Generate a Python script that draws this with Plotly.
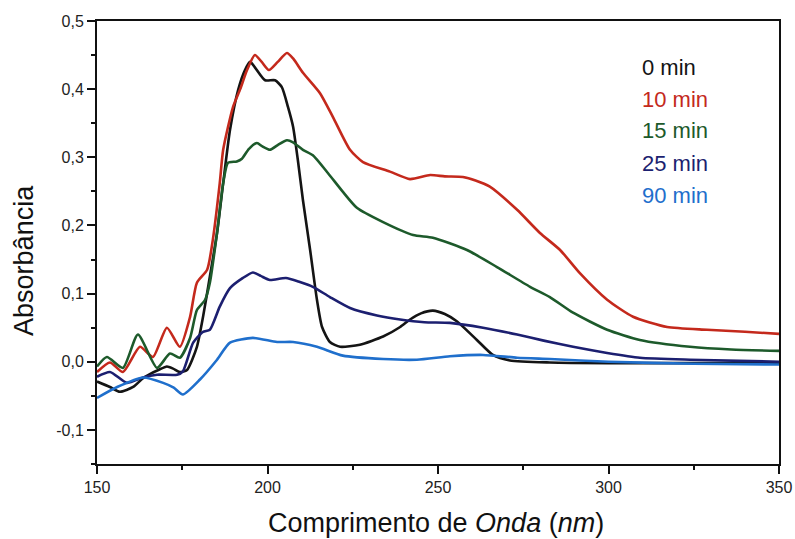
import plotly.graph_objects as go

# UV-Vis absorbance spectra at different reaction times
wl_0 = [150, 153.8, 156.7, 160.6, 163.5, 165.5, 168, 170.5, 172.3, 174.3, 176.4, 179.3, 181.1, 183.1,
        185.2, 187, 189, 191.4, 193.4, 194.9, 196.3, 199.3, 202.2, 204.2, 206, 207.5, 208.9, 210.4,
        212.5, 214.5, 216, 218.3, 221.3, 227.1, 233.9, 238.9, 241.8, 245, 248.5, 252, 255.6, 261.4,
        266.1, 271.1, 282.8, 300, 325, 350]
abs_0 = [-0.029, -0.037, -0.044, -0.037, -0.024, -0.018, -0.012, -0.007, -0.010, -0.015, -0.012, 0.022,
         0.066, 0.125, 0.189, 0.262, 0.340, 0.399, 0.428, 0.440, 0.432, 0.413, 0.413, 0.403, 0.374,
         0.345, 0.296, 0.237, 0.164, 0.091, 0.051, 0.029, 0.022, 0.025, 0.037, 0.051, 0.062, 0.071,
         0.075, 0.070, 0.059, 0.032, 0.010, 0.002, -0.001, -0.002, -0.002, -0.002]

wl_10 = [150, 153.8, 157.6, 162.6, 166.4, 170.5, 174.3, 177.3, 179.3, 182.3, 184, 186, 187, 189.9,
         192, 194, 196.3, 198.3, 200.4, 203, 205.7, 207.5, 210.4, 215.4, 219.2, 224.2, 228, 235.9,
         241.8, 247.7, 252, 257.3, 261, 265.2, 273.2, 279.9, 285.8, 291.6, 299.6, 307.2, 317.2,
         328.9, 340, 350]
abs_10 = [-0.015, -0.001, -0.015, 0.022, 0.007, 0.050, 0.022, 0.066, 0.116, 0.135, 0.180, 0.262, 0.311,
          0.374, 0.400, 0.428, 0.450, 0.440, 0.428, 0.440, 0.453, 0.445, 0.424, 0.394, 0.359, 0.311,
          0.293, 0.279, 0.268, 0.274, 0.272, 0.271, 0.266, 0.257, 0.223, 0.189, 0.164, 0.130, 0.091,
          0.066, 0.051, 0.047, 0.044, 0.041]

wl_15 = [150, 152.9, 157.6, 162, 167.6, 171.4, 174.3, 177.3, 179.3, 181.7, 183.1, 185.2, 187, 188.4,
         191, 192.5, 194.5, 196.9, 198.5, 200.7, 203, 205.7, 207.5, 210.4, 213.3, 217.7, 222, 226.2,
         233.9, 242.7, 248.5, 258.5, 267.3, 277, 282.8, 289.6, 299.6, 309.2, 323.9, 336, 350]
abs_15 = [-0.007, 0.007, -0.009, 0.040, -0.009, 0.012, 0.006, 0.035, 0.076, 0.091, 0.116, 0.189, 0.262,
          0.292, 0.294, 0.298, 0.312, 0.321, 0.316, 0.311, 0.318, 0.325, 0.322, 0.311, 0.303, 0.277,
          0.250, 0.226, 0.205, 0.186, 0.182, 0.164, 0.139, 0.110, 0.095, 0.072, 0.047, 0.032, 0.022,
          0.018, 0.016]

wl_25 = [150, 153.8, 158.8, 163.5, 167.6, 173.5, 175.2, 178.2, 181.1, 183.1, 186, 189, 192.8, 195.7,
         198, 200.7, 205.4, 209.5, 213.3, 218.3, 224.2, 232.1, 238.9, 246, 253.5, 263.2, 273.2, 281,
         289.6, 299.6, 309.2, 323.9, 350]
abs_25 = [-0.022, -0.015, -0.031, -0.023, -0.019, -0.019, -0.014, 0.028, 0.044, 0.047, 0.081, 0.108,
          0.123, 0.131, 0.126, 0.120, 0.123, 0.117, 0.110, 0.095, 0.079, 0.068, 0.062, 0.058, 0.057,
          0.050, 0.040, 0.031, 0.022, 0.013, 0.006, 0.003, 0.000]

wl_90 = [150, 155.9, 163.5, 169.4, 172.5, 175.2, 180.2, 185.2, 189, 195.7, 202.8, 207.5, 214.5, 222.1,
         233.9, 243.8, 253.5, 263.2, 273.2, 282.8, 300, 325, 350]
abs_90 = [-0.053, -0.037, -0.023, -0.031, -0.038, -0.048, -0.026, 0.003, 0.028, 0.035, 0.029, 0.029,
          0.022, 0.009, 0.004, 0.003, 0.008, 0.010, 0.006, 0.004, 0.000, -0.003, -0.004]

labels = ["0 min", "10 min", "15 min", "25 min", "90 min"]
colors = ["#141414", "#c4291c", "#1d5a2b", "#1c1f70", "#1f6fcc"]
series = [(wl_0, abs_0), (wl_10, abs_10), (wl_15, abs_15), (wl_25, abs_25), (wl_90, abs_90)]

y_ticks = [-0.1, 0.0, 0.1, 0.2, 0.3, 0.4, 0.5]
y_ticktext = ["-0,1", "0,0", "0,1", "0,2", "0,3", "0,4", "0,5"]
x_ticks = [150, 200, 250, 300, 350]

font_family = "Liberation Sans, Arial, sans-serif"

fig = go.Figure()
for (x, y), name, c in zip(series, labels, colors):
    fig.add_trace(go.Scatter(x=x, y=y, mode="lines", name=name,
                             line=dict(color=c, width=2.6, shape="spline", smoothing=0.6)))

# Coloured text labels in place of a legend box
legend_y = [0.894, 0.822, 0.752, 0.679, 0.605]
for name, c, yy in zip(labels, colors, legend_y):
    fig.add_annotation(x=0.796, y=yy, xref="paper", yref="paper", text=name, showarrow=False,
                       xanchor="left", yanchor="middle",
                       font=dict(family=font_family, size=22, color=c))

# Axis titles
fig.add_annotation(x=0.497, y=-0.133, xref="paper", yref="paper",
                   text="Comprimento de <i>Onda</i> (<i>nm</i>)", showarrow=False,
                   xanchor="center", yanchor="middle",
                   font=dict(family=font_family, size=27, color="#111"))
fig.add_annotation(x=-0.106, y=0.46, xref="paper", yref="paper", text="Absorbância",
                   showarrow=False, textangle=-90, xanchor="center", yanchor="middle",
                   font=dict(family=font_family, size=27, color="#111"))

axis_common = dict(showline=True, linecolor="#111", linewidth=2, mirror=True, showgrid=False,
                   zeroline=False, ticks="outside", ticklen=8, tickwidth=2, tickcolor="#111",
                   automargin=False,
                   tickfont=dict(family=font_family, size=16, color="#222"))

fig.update_xaxes(range=[150, 350], tickvals=x_ticks,
                 minor=dict(dtick=25, ticks="outside", ticklen=4, tickwidth=2, tickcolor="#111"),
                 **axis_common)
fig.update_yaxes(range=[-0.15, 0.5], tickvals=y_ticks, ticktext=y_ticktext,
                 minor=dict(dtick=0.05, ticks="outside", ticklen=4, tickwidth=2, tickcolor="#111"),
                 **axis_common)

fig.update_layout(width=795, height=539, showlegend=False,
                  plot_bgcolor="white", paper_bgcolor="white",
                  margin=dict(l=97, r=16, t=21, b=75))

fig.write_html("out.html")
